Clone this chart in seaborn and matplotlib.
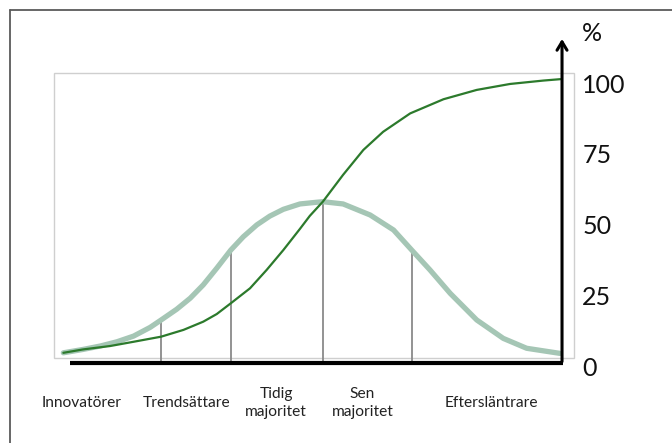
import matplotlib
matplotlib.use('Agg')

import numpy as np
import pandas as pd
import matplotlib.pyplot as plt
from matplotlib.lines import Line2D
from matplotlib.patches import Rectangle
import seaborn as sns

# --- data (x: 0-100 along the time axis, y: percent) ---
bell_x = [1.8, 5.6, 8.9, 12.1, 15.3, 18.5, 20.6, 23.6, 26.2, 28.7,
          31.3, 34.0, 36.4, 39.0, 41.5, 44.1, 47.3, 50.5, 51.7, 55.6,
          60.8, 65.3, 68.8, 72.3, 76.2, 81.3, 86.4, 90.9, 97.3]
bell_y = [3.6, 4.8, 6.0, 7.5, 9.5, 12.6, 15.2, 19.0, 22.9, 27.6,
          33.5, 39.9, 44.6, 48.8, 51.9, 54.3, 56.2, 56.8, 57.0, 56.2,
          52.3, 47.0, 39.9, 32.9, 24.6, 15.2, 8.7, 5.2, 3.4]

s_x = [1.8, 5.6, 10.8, 15.3, 20.6, 24.9, 28.7, 31.3, 34.0, 37.7,
       40.9, 44.1, 47.3, 49.2, 51.7, 55.6, 59.5, 63.3, 68.5, 74.9,
       81.3, 87.7, 94.1, 97.4]
s_y = [3.6, 4.8, 6.0, 7.5, 9.3, 11.7, 14.6, 17.3, 21.1, 26.4,
       32.9, 39.9, 47.4, 52.0, 57.0, 66.5, 75.3, 81.7, 88.2, 93.2,
       96.5, 98.6, 99.8, 100.3]

split_x = [20.6, 34.0, 51.7, 68.8]
split_top = [15.2, 39.9, 57.0, 39.9]

pct_ticks = [0, 25, 50, 75, 100]

groups = ['Innovatörer', 'Trendsättare', 'Tidig\nmajoritet', 'Sen\nmajoritet', 'Eftersläntrare']
group_x = [5.4, 25.4, 42.7, 59.3, 84.2]

sns.set_theme(style='white')
plt.rcParams['font.family'] = ['Lato', 'DejaVu Sans']

fig = plt.figure(figsize=(6.72, 4.43), dpi=100)
ax = fig.add_axes([0, 0, 1, 1])
ax.set_xlim(-10.385, 118.85)
ax.set_ylim(-28.27, 128.27)
ax.axis('off')

# outer frame (only top + left visible)
fig.add_artist(Line2D([10/672, 10/672], [0, 1 - 10/443], color='#5a5a5a', lw=1.3))
fig.add_artist(Line2D([10/672, 1], [1 - 10/443, 1 - 10/443], color='#5a5a5a', lw=1.3))

# inner light box
ax.add_patch(Rectangle((0, 1.8), 100, 100.7, fill=False, ec='#cfcfcf', lw=1.0))

# split lines
for x, top in zip(split_x, split_top):
    ax.plot([x, x], [0, top], color='#8a8a8a', lw=1.3, zorder=2)

bell = pd.DataFrame({'x': bell_x, 'y': bell_y})
scurve = pd.DataFrame({'x': s_x, 'y': s_y})
sns.lineplot(data=bell, x='x', y='y', ax=ax, color='#a5c6b5', lw=3.8,
             sort=False, zorder=3, solid_joinstyle='round', solid_capstyle='round')
sns.lineplot(data=scurve, x='x', y='y', ax=ax, color='#2c7a2c', lw=1.6,
             sort=False, zorder=4, solid_joinstyle='round')

# base line and vertical arrow axis
ax.plot([3.1, 97.9], [0, 0], color='black', lw=3, solid_capstyle='butt', zorder=5)
ax.annotate('', xy=(97.7, 115.5), xytext=(97.7, -0.5),
            arrowprops=dict(arrowstyle='->,head_length=0.5,head_width=0.3',
                            color='black', lw=2.2), zorder=5)

for v in pct_ticks:
    ax.text(101.6, v - 1.8, str(v), fontsize=18, va='center', ha='left', color='#111111')
ax.text(101.6, 116.5, '%', fontsize=18, va='center', ha='left', color='#111111')

for name, x in zip(groups, group_x):
    ax.text(x, -14.1, name, fontsize=11.2, ha='center', va='center',
            linespacing=1.3, color='#222222')

fig.savefig('out.png', dpi=100)
